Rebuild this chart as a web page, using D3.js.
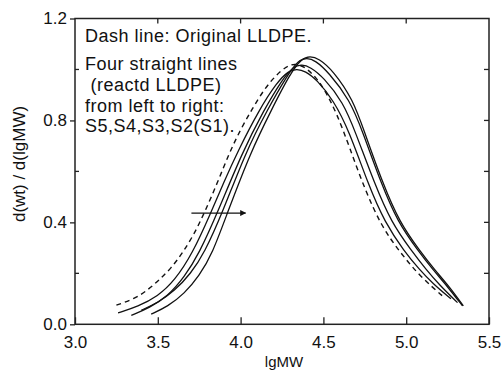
<!DOCTYPE html>
<html>
<head>
<meta charset="utf-8">
<script src="https://cdn.jsdelivr.net/npm/d3@7"></script>
<style>
  body { margin: 0; background: #fff; }
  svg { display: block; font-family: "Liberation Sans", Arial, sans-serif; }
</style>
</head>
<body>
<svg id="chart"></svg>
<script>
// GPC curves: [lgMW, d(wt)/d(lgMW)]
const original = [[3.25,0.075],[3.36,0.10],[3.44,0.135],[3.51,0.175],[3.58,0.22],[3.65,0.28],[3.72,0.355],[3.78,0.435],[3.86,0.555],[3.93,0.67],[4.00,0.765],[4.07,0.845],[4.14,0.92],[4.21,0.975],[4.28,1.015],[4.33,1.022],[4.38,1.013],[4.44,0.98],[4.50,0.93],[4.58,0.83],[4.66,0.69],[4.75,0.53],[4.85,0.385],[4.96,0.285],[5.08,0.19],[5.23,0.105]];
const s5 = [[3.26,0.045],[3.38,0.07],[3.50,0.11],[3.60,0.17],[3.71,0.278],[3.82,0.437],[3.90,0.56],[3.98,0.675],[4.11,0.84],[4.22,0.95],[4.29,0.995],[4.34,1.002],[4.39,0.994],[4.46,0.96],[4.56,0.88],[4.655,0.76],[4.77,0.55],[4.87,0.40],[4.99,0.285],[5.08,0.215],[5.16,0.16],[5.27,0.10]];
const s4 = [[3.34,0.035],[3.45,0.065],[3.56,0.11],[3.66,0.185],[3.75,0.278],[3.86,0.437],[4.01,0.675],[4.14,0.84],[4.25,0.96],[4.32,1.012],[4.37,1.02],[4.42,1.01],[4.50,0.97],[4.62,0.87],[4.69,0.76],[4.81,0.55],[4.91,0.40],[5.03,0.29],[5.12,0.215],[5.20,0.155],[5.31,0.085]];
const s3 = [[3.40,0.055],[3.50,0.085],[3.60,0.13],[3.70,0.20],[3.78,0.278],[3.89,0.437],[4.03,0.675],[4.16,0.84],[4.28,0.975],[4.35,1.037],[4.40,1.045],[4.45,1.036],[4.53,0.99],[4.66,0.88],[4.735,0.76],[4.85,0.55],[4.95,0.40],[5.07,0.29],[5.16,0.215],[5.25,0.148],[5.34,0.072]];
const s2 = [[3.46,0.04],[3.56,0.07],[3.66,0.12],[3.75,0.19],[3.83,0.278],[3.92,0.437],[4.06,0.675],[4.185,0.84],[4.30,0.985],[4.37,1.044],[4.42,1.052],[4.47,1.044],[4.56,0.995],[4.68,0.88],[4.745,0.76],[4.86,0.55],[4.96,0.40],[5.08,0.29],[5.17,0.215],[5.26,0.148],[5.345,0.072]];

const xTicks = [3.0, 3.5, 4.0, 4.5, 5.0, 5.5];
const yTicks = [0.0, 0.4, 0.8, 1.2];
const yMinor = [0.2, 0.6, 1.0];
const noteLines = ['Dash line: Original LLDPE.', 'Four straight lines', ' (reactd LLDPE)', 'from left to right:', 'S5,S4,S3,S2(S1).'];
const arrowFrom = [3.703, 0.4365], arrowTo = [4.03, 0.4365];

const width = 503, height = 371;
const marginLeft = 75, marginRight = 14, marginTop = 18.5, marginBottom = 46.7;

const svg = d3.select('#chart')
  .attr('width', width)
  .attr('height', height)
  .attr('viewBox', [0, 0, width, height]);

const x = d3.scaleLinear().domain([3, 5.5]).range([marginLeft, width - marginRight]);
const y = d3.scaleLinear().domain([0, 1.2]).range([height - marginBottom, marginTop]);

// curves (smoothed through the read points)
const line = d3.line().x(d => x(d[0])).y(d => y(d[1])).curve(d3.curveBasis);

svg.append('path').datum(original)
  .attr('d', line).attr('fill', 'none')
  .attr('stroke', '#111').attr('stroke-width', 1.4)
  .attr('stroke-dasharray', '5,4');

svg.append('g').selectAll('path')
  .data([s5, s4, s3, s2])
  .join('path')
  .attr('d', line).attr('fill', 'none')
  .attr('stroke', '#111').attr('stroke-width', 1.3);

// frame + axes
const axisColor = '#222';
svg.append('rect')
  .attr('x', x(3)).attr('y', y(1.2))
  .attr('width', x(5.5) - x(3)).attr('height', y(0) - y(1.2))
  .attr('fill', 'none').attr('stroke', axisColor).attr('stroke-width', 1.5);

// bottom axis, ticks inward
const gx = svg.append('g')
  .attr('transform', `translate(0,${y(0)})`)
  .call(d3.axisBottom(x).tickValues(xTicks).tickSize(-7).tickPadding(12).tickFormat(d3.format('.1f')));
gx.select('.domain').remove();
gx.selectAll('line').attr('stroke', axisColor).attr('stroke-width', 1.3);
gx.selectAll('text').attr('font-size', 17).attr('fill', '#111').attr('font-family', '"Liberation Sans", Arial, sans-serif');

// top ticks
svg.append('g').selectAll('line')
  .data(xTicks.slice(1, -1))
  .join('line')
  .attr('x1', d => x(d)).attr('x2', d => x(d))
  .attr('y1', y(1.2)).attr('y2', y(1.2) + 5)
  .attr('stroke', axisColor).attr('stroke-width', 1.3);

// left axis, major ticks outward
const gy = svg.append('g')
  .attr('transform', `translate(${x(3)},0)`)
  .call(d3.axisLeft(y).tickValues(yTicks).tickSize(5).tickPadding(3).tickFormat(d3.format('.1f')));
gy.select('.domain').remove();
gy.selectAll('line').attr('stroke', axisColor).attr('stroke-width', 1.3);
gy.selectAll('text').attr('font-size', 17).attr('fill', '#111').attr('font-family', '"Liberation Sans", Arial, sans-serif');

// left minor ticks inward
svg.append('g').selectAll('line')
  .data(yMinor)
  .join('line')
  .attr('x1', x(3)).attr('x2', x(3) + 4)
  .attr('y1', d => y(d)).attr('y2', d => y(d))
  .attr('stroke', axisColor).attr('stroke-width', 1.3);

// right ticks inward
svg.append('g').selectAll('line')
  .data([0.2, 0.4, 0.6, 0.8, 1.0])
  .join('line')
  .attr('x1', x(5.5) - 5).attr('x2', x(5.5))
  .attr('y1', d => y(d)).attr('y2', d => y(d))
  .attr('stroke', axisColor).attr('stroke-width', 1.3);

// axis titles
svg.append('text')
  .attr('x', (x(3) + x(5.5)) / 2 + 2).attr('y', height - 4)
  .attr('text-anchor', 'middle').attr('font-size', 15).attr('fill', '#111')
  .text('lgMW');

svg.append('text')
  .attr('transform', `translate(25,${164}) rotate(-90)`)
  .attr('text-anchor', 'middle').attr('font-size', 17).attr('fill', '#111')
  .text('d(wt) / d(lgMW)');

// note text
svg.append('g').selectAll('text')
  .data(noteLines)
  .join('text')
  .attr('x', 85)
  .attr('y', (d, i) => [42, 70, 91, 112, 132][i])
  .attr('font-size', 18).attr('fill', '#111')
  .attr('letter-spacing', 0.5)
  .style('white-space', 'pre')
  .text(d => d);

// arrow
svg.append('defs').append('marker')
  .attr('id', 'head').attr('viewBox', '0 0 10 10')
  .attr('refX', 9).attr('refY', 5)
  .attr('markerWidth', 9).attr('markerHeight', 6)
  .attr('markerUnits', 'userSpaceOnUse')
  .attr('orient', 'auto')
  .append('path').attr('d', 'M0,0L10,5L0,10Z').attr('fill', '#111');

svg.append('line')
  .attr('x1', x(arrowFrom[0])).attr('y1', y(arrowFrom[1]))
  .attr('x2', x(arrowTo[0])).attr('y2', y(arrowTo[1]))
  .attr('stroke', '#111').attr('stroke-width', 1.3)
  .attr('marker-end', 'url(#head)');
</script>
</body>
</html>
